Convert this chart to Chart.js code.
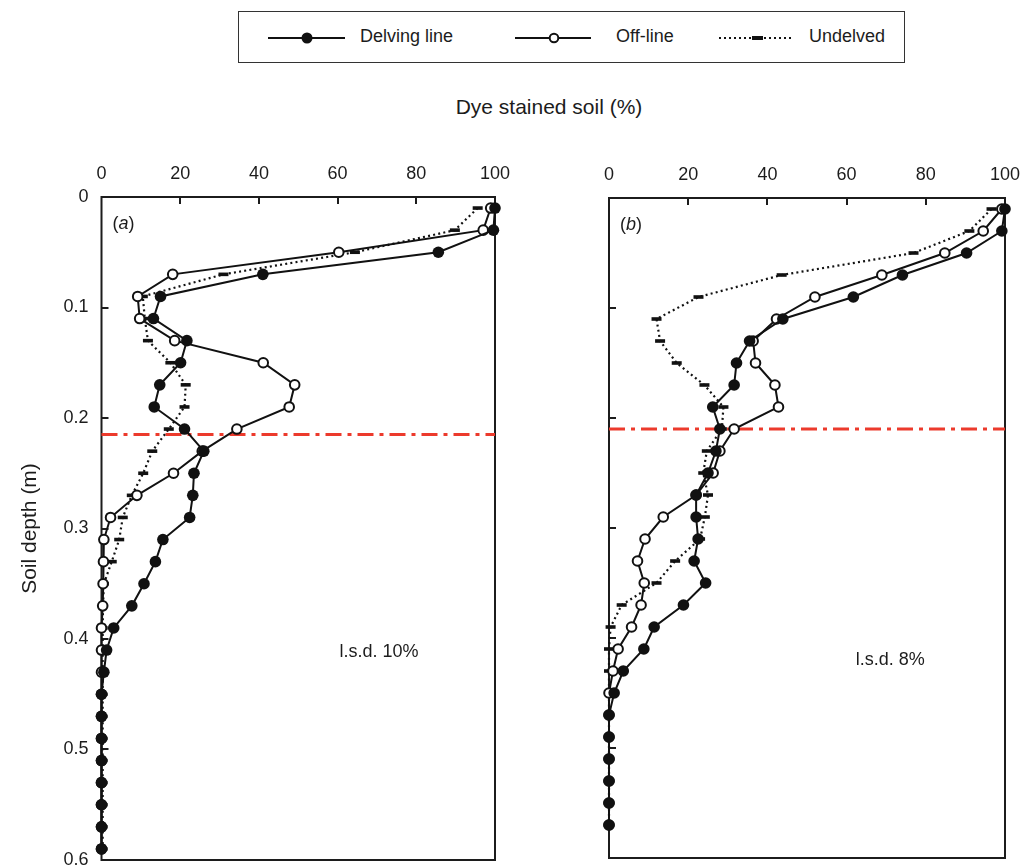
<!DOCTYPE html>
<html>
<head>
<meta charset="utf-8">
<script src="https://cdn.jsdelivr.net/npm/chart.js@4/dist/chart.umd.min.js"></script>
<style>
  html, body { margin: 0; padding: 0; background: #fff; overflow: hidden; width: 1021px; height: 865px; }
  body { position: relative; font-family: "Liberation Sans", Arial, sans-serif; color: #1c1c1c; }
  canvas { position: absolute; }
  #legend { position: absolute; left: 238px; top: 11px; width: 667px; height: 52px; border: 1.5px solid #333; box-sizing: border-box; }
  #legend .sym { position: absolute; top: 19px; }
  #legend .lab { position: absolute; top: 14px; font-size: 18px; line-height: 20px; white-space: nowrap; }
  #xtitle { position: absolute; left: 349px; width: 400px; top: 95px; text-align: center; font-size: 21px; line-height: 24px; }
</style>
</head>
<body>
<div id="legend">
  <svg class="sym" style="left:29px" width="80" height="14">
    <line x1="0" y1="7" x2="77" y2="7" stroke="#111" stroke-width="2"/>
    <circle cx="39" cy="7" r="5.5" fill="#111"/>
  </svg>
  <span class="lab" style="left:121px">Delving line</span>
  <svg class="sym" style="left:276px" width="80" height="14">
    <line x1="0" y1="7" x2="76" y2="7" stroke="#111" stroke-width="2"/>
    <circle cx="39" cy="7" r="4.3" fill="#fff" stroke="#111" stroke-width="2"/>
  </svg>
  <span class="lab" style="left:377px">Off-line</span>
  <svg class="sym" style="left:480px" width="80" height="14">
    <line x1="0" y1="7" x2="73" y2="7" stroke="#111" stroke-width="2" stroke-dasharray="2 3"/>
    <rect x="33" y="5" width="11" height="4" fill="#111"/>
  </svg>
  <span class="lab" style="left:570px">Undelved</span>
</div>
<div id="xtitle">Dye stained soil (%)</div>
<canvas id="panelA" width="520" height="770" style="left:0px;top:130px"></canvas>
<canvas id="panelB" width="501" height="770" style="left:520px;top:130px"></canvas>
<script>
// Soil depth (m) of each sampling layer
const depthA = [0.01, 0.03, 0.05, 0.07, 0.09, 0.11, 0.13, 0.15, 0.17, 0.19,
                0.21, 0.23, 0.25, 0.27, 0.29, 0.31, 0.33, 0.35, 0.37, 0.39,
                0.41, 0.43, 0.45, 0.47, 0.49, 0.51, 0.53, 0.55, 0.57, 0.59];
const depthB = [0.01, 0.03, 0.05, 0.07, 0.09, 0.11, 0.13, 0.15, 0.17, 0.19,
                0.21, 0.23, 0.25, 0.27, 0.29, 0.31, 0.33, 0.35, 0.37, 0.39,
                0.41, 0.43, 0.45, 0.47, 0.49, 0.51, 0.53, 0.55, 0.57];

// Dye stained soil (%) - site (a)
const delvingA  = [100, 99.6, 85.6, 41.0, 15.0, 13.2, 21.7, 20.1, 14.8, 13.4,
                   21.1, 26.0, 23.5, 23.2, 22.4, 15.6, 13.7, 10.8, 7.7, 3.1,
                   1.3, 0.6, 0, 0, 0, 0, 0, 0, 0, 0];
const offlineA  = [98.9, 97.0, 60.3, 18.1, 9.2, 9.7, 18.6, 41.1, 49.1, 47.7,
                   34.4, 25.6, 18.3, 9.0, 2.3, 0.6, 0.5, 0.4, 0.3, 0,
                   0, 0, 0, 0, 0, 0, 0, 0, 0, 0];
const undelvedA = [95.6, 89.8, 64.4, 31.0, 10.5, 11.0, 11.8, 17.5, 21.4, 21.1,
                   17.1, 12.9, 10.6, 7.7, 5.4, 4.5, 2.6, 0.6, 0.4, 0.3,
                   0.3, 0.3, 0.3, 0.3, 0.3, 0.3, 0.3, 0.3, 0.3, 0.3];

// Dye stained soil (%) - site (b)
const delvingB  = [100, 99.2, 90.3, 74.1, 61.7, 43.9, 35.5, 32.2, 31.6, 26.2,
                   28.0, 27.0, 25.0, 22.0, 22.0, 22.5, 21.5, 24.4, 18.8, 11.4,
                   8.8, 3.6, 1.3, 0, 0, 0, 0, 0, 0];
const offlineB  = [99.2, 94.5, 84.8, 68.9, 52.0, 42.3, 36.4, 37.0, 41.9, 42.8,
                   31.6, 28.0, 26.3, 22.0, 13.7, 9.1, 7.2, 8.9, 8.1, 5.7,
                   2.3, 1.0, 0, 0, 0, 0, 0, 0, 0];
const undelvedB = [96.6, 91.0, 76.9, 43.6, 22.6, 12.0, 12.9, 17.1, 24.1, 28.9,
                   28.5, 24.7, 23.8, 25.0, 24.2, 23.0, 16.7, 12.0, 3.2, 0.4,
                   0, 0, 0, 0, 0, 0, 0, 0, 0];

// Reference depth lines (m)
const refDepthA = 0.215;
const refDepthB = 0.21;

// Axis tick labels and panel texts
const xTickLabels = ['0', '20', '40', '60', '80', '100'];
const depthTickValues = [0, 0.1, 0.2, 0.3, 0.4, 0.5, 0.6];
const depthTickLabels = ['0', '0.1', '0.2', '0.3', '0.4', '0.5', '0.6'];
const panelTags = ['a', 'b'];
const lsdTexts = ['l.s.d. 10%', 'l.s.d. 8%'];
const lsdPos = [[70.5, 0.412], [71, 0.42]];

const INK = '#1c1c1c';
const FONT = '"Liberation Sans", Arial, sans-serif';

function pts(xs, ys) { return ys.map((d, i) => ({ x: xs[i], y: d })); }

function depthLabel(v) {
  let best = 0;
  depthTickValues.forEach((t, i) => { if (Math.abs(t - v) < Math.abs(depthTickValues[best] - v)) best = i; });
  return depthTickLabels[best];
}
function xLabel(v) {
  const i = xTickLabels.findIndex(s => Math.abs(Number(s) - v) < 1e-6);
  return i >= 0 ? xTickLabels[i] : '';
}

// Frame, inward tick marks and panel annotations
const framePlugin = {
  id: 'frameTicks',
  beforeDatasetsDraw(chart) {
    const { ctx, chartArea: a, scales: { x, y } } = chart;
    ctx.save();
    ctx.strokeStyle = INK;
    ctx.lineWidth = 2;
    ctx.strokeRect(a.left, a.top, a.right - a.left, a.bottom - a.top);
    ctx.beginPath();
    x.ticks.forEach(t => {
      if (t.value <= x.min || t.value >= x.max) return;
      const px = Math.round(x.getPixelForValue(t.value));
      ctx.moveTo(px, a.top); ctx.lineTo(px, a.top + 7);
    });
    y.ticks.forEach(t => {
      if (t.value <= y.min || t.value >= y.max) return;
      const py = Math.round(y.getPixelForValue(t.value));
      ctx.moveTo(a.left, py); ctx.lineTo(a.left + 7, py);
    });
    ctx.stroke();
    ctx.restore();
  },
  afterDatasetsDraw(chart, args, opts) {
    const { ctx, chartArea: a, scales: { x, y } } = chart;
    ctx.save();
    ctx.fillStyle = INK;
    ctx.textBaseline = 'middle';
    // panel tag "(a)" with italic letter
    let tx = a.left + 11, ty = a.top + 27;
    ctx.font = '18px ' + FONT;
    ctx.fillText('(', tx, ty); tx += ctx.measureText('(').width;
    ctx.font = 'italic 18px ' + FONT;
    ctx.fillText(opts.tag, tx, ty); tx += ctx.measureText(opts.tag).width;
    ctx.font = '18px ' + FONT;
    ctx.fillText(')', tx, ty);
    // l.s.d. note
    ctx.textAlign = 'center';
    ctx.fillText(opts.lsd, x.getPixelForValue(opts.lsdAt[0]), y.getPixelForValue(opts.lsdAt[1]));
    ctx.restore();
  }
};

function makePanel(id, p) {
  const datasets = [
    { label: 'Delving line', data: pts(p.delving, p.depth), borderColor: '#111', backgroundColor: '#111',
      borderWidth: 2, pointRadius: 5.8, pointBorderWidth: 0, pointBackgroundColor: '#111', clip: false },
    { label: 'Off-line', data: pts(p.offline, p.depth), borderColor: '#111', backgroundColor: '#fff',
      borderWidth: 2, pointRadius: 4.8, pointBorderWidth: 2, pointBackgroundColor: '#fff', pointBorderColor: '#111', clip: false },
    { label: 'Undelved', data: pts(p.undelved, p.depth), borderColor: '#111', borderWidth: 2.2,
      borderDash: [2, 3.2], pointStyle: 'line', pointRadius: 5, pointBorderWidth: 3.6, pointBorderColor: '#111', clip: false },
    { label: 'ref', data: [{ x: 0, y: p.ref }, { x: 100, y: p.ref }], borderColor: '#ec3a2c', borderWidth: 3,
      borderDash: [16, 6, 4, 6], pointRadius: 0, clip: false }
  ];
  return new Chart(document.getElementById(id), {
    type: 'scatter',
    data: { datasets: datasets.map(d => Object.assign({ showLine: true, tension: 0, fill: false }, d)) },
    options: {
      responsive: false, animation: false, events: [], devicePixelRatio: 1,
      layout: { padding: { left: 0, top: 0, right: p.padRight, bottom: p.padBottom } },
      plugins: { legend: { display: false }, tooltip: { enabled: false },
                 frameTicks: { tag: p.tag, lsd: p.lsd, lsdAt: p.lsdAt } },
      scales: {
        x: {
          type: 'linear', position: 'top', min: 0, max: 100,
          grid: { display: false, drawTicks: false }, border: { display: false },
          ticks: { stepSize: 20, padding: p.xPad, color: INK, font: { family: FONT, size: 18 },
                   maxRotation: 0, autoSkip: false, callback: v => xLabel(v) },
          afterFit: s => { s.height = p.top; s.paddingLeft = 0; s.paddingRight = 0; }
        },
        y: {
          type: 'linear', reverse: true, min: 0, max: 0.6,
          grid: { display: false, drawTicks: false }, border: { display: false },
          ticks: { display: p.showY, stepSize: 0.1, padding: 13, color: INK, font: { family: FONT, size: 18 },
                   autoSkip: false, callback: v => depthLabel(v) },
          title: { display: p.showY, text: 'Soil depth (m)', color: INK, font: { family: FONT, size: 21 },
                   padding: { top: 18, bottom: 0 } },
          afterFit: s => { s.width = p.left; s.paddingTop = 0; s.paddingBottom = 0; }
        }
      }
    },
    plugins: [framePlugin]
  });
}

makePanel('panelA', {
  depth: depthA, delving: delvingA, offline: offlineA, undelved: undelvedA, ref: refDepthA,
  tag: panelTags[0], lsd: lsdTexts[0], lsdAt: lsdPos[0], showY: true,
  left: 101.5, top: 67, padRight: 25, padBottom: 40, xPad: 12
});
makePanel('panelB', {
  depth: depthB, delving: delvingB, offline: offlineB, undelved: undelvedB, ref: refDepthB,
  tag: panelTags[1], lsd: lsdTexts[1], lsdAt: lsdPos[1], showY: false,
  left: 89, top: 68, padRight: 16, padBottom: 42, xPad: 12.5
});
</script>
</body>
</html>
